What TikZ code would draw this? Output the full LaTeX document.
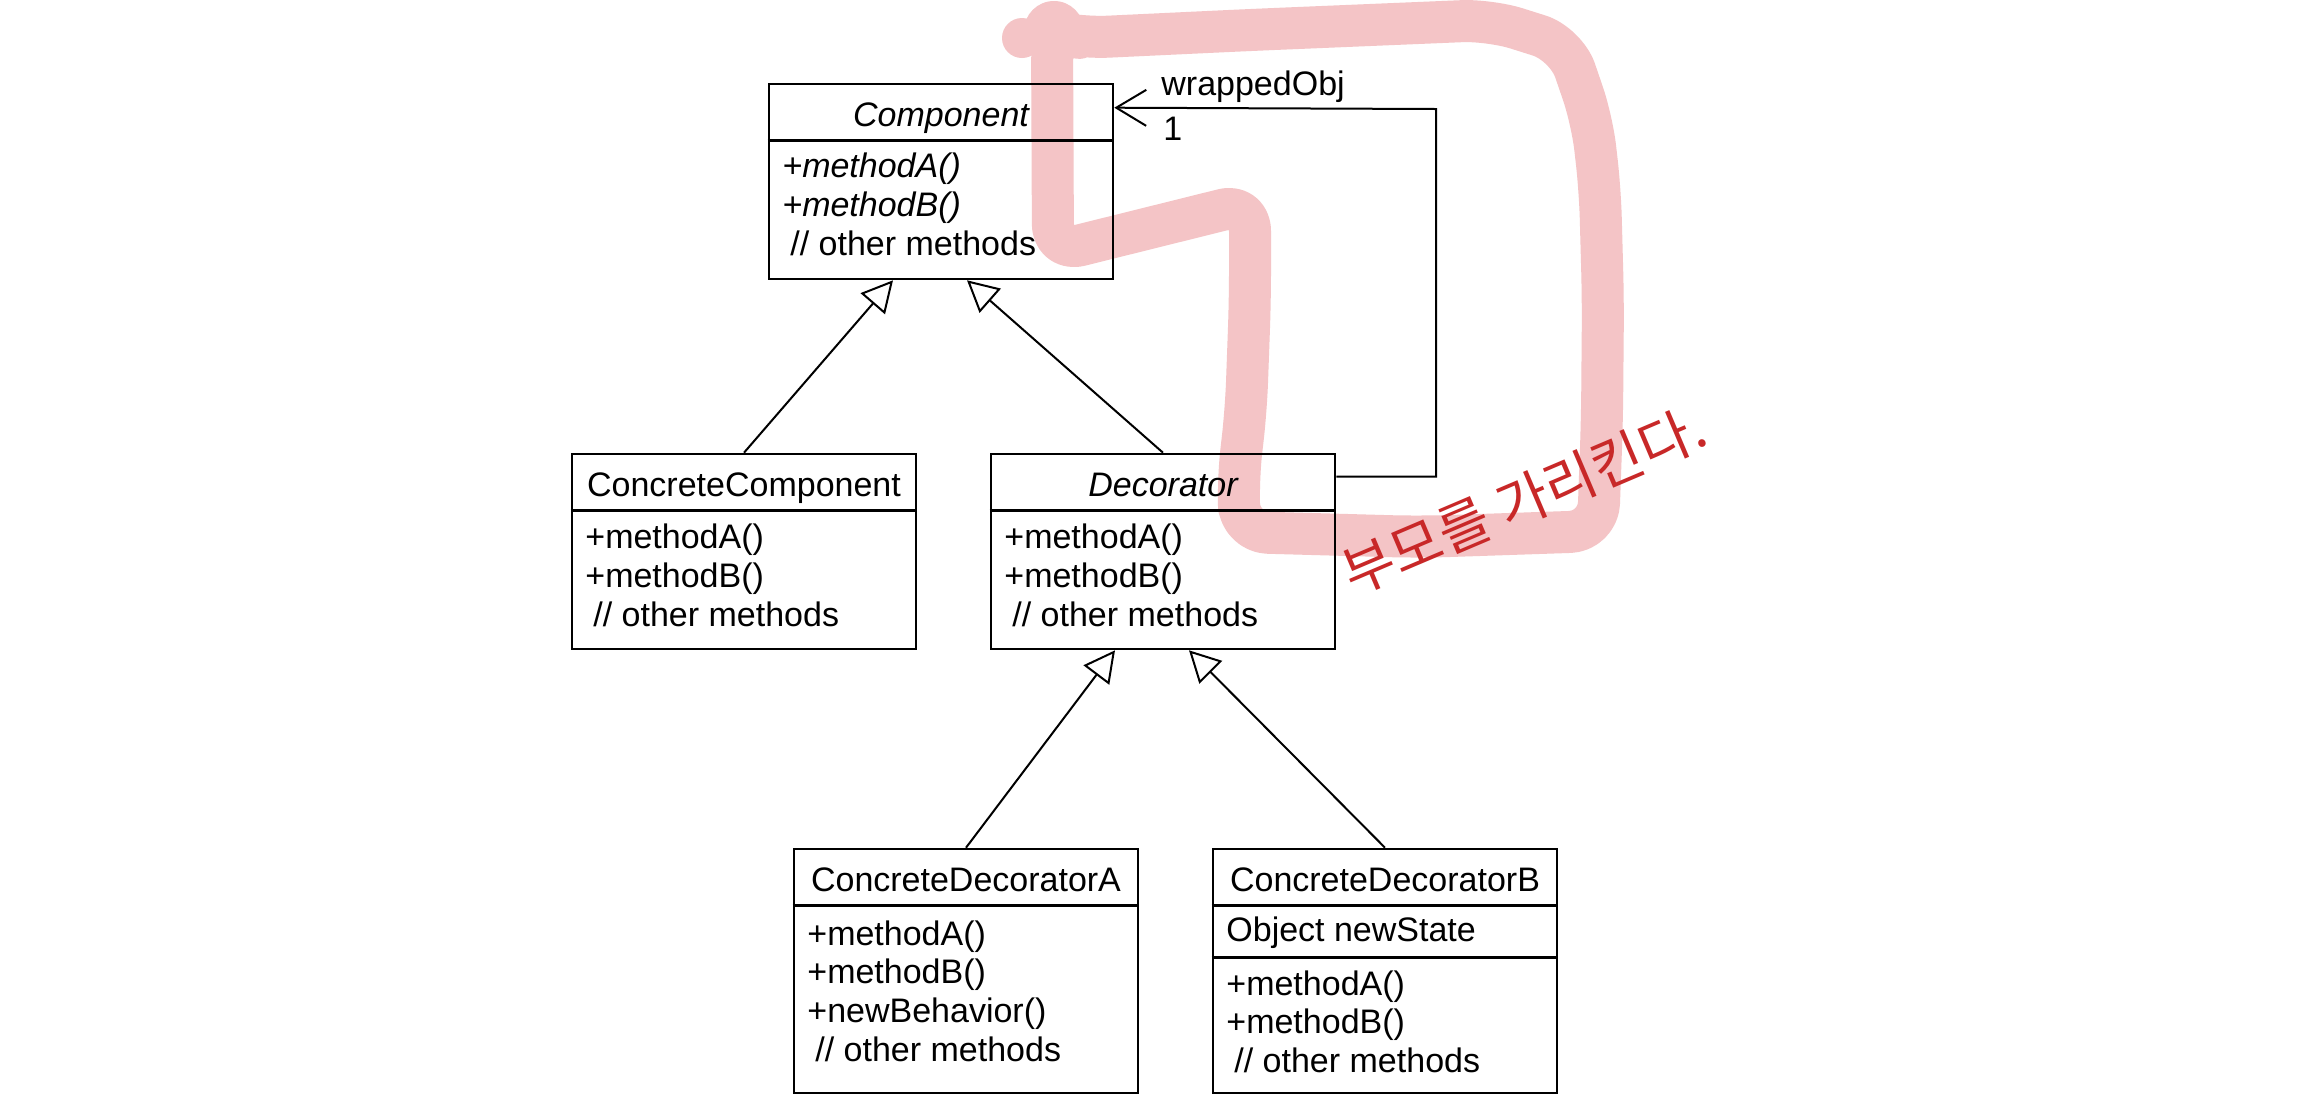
\documentclass[tikz,border=0pt]{standalone}
\usepackage{fontspec}
\setmainfont{Liberation Sans}
\newfontfamily\krfont{Noto Sans CJK KR}
\usetikzlibrary{arrows.meta,calc}
\definecolor{hilite}{RGB}{244,196,198}
\definecolor{penred}{RGB}{200,40,40}
\begin{document}
\begin{tikzpicture}[x=0.5pt,y=-0.5pt,
  classbox/.style={draw, line width=1.3pt, rectangle, inner sep=0pt, minimum width=172pt},
  divider/.style={line width=1.3pt},
  ttl/.style={inner sep=0pt, anchor=base, font=\fontsize{17pt}{20pt}\selectfont},
  mtxt/.style={inner sep=0pt, anchor=base west, font=\fontsize{17pt}{20pt}\selectfont},
  gen/.style={draw, line width=1pt, -{Triangle[length=15.5pt, width=16pt, fill=white, line width=1pt]}},
  agg/.style={draw, line width=1pt, -{Straight Barb[length=15pt, width=18pt, line width=1pt]}},
  hl/.style={draw=hilite, line width=21pt, line cap=round, line join=round},
  kr/.style={inner sep=0pt, text=penred, font=\krfont\fontsize{28pt}{32pt}\selectfont}
]
\fill[white] (0,0) rectangle (2304,1110);
\useasboundingbox (0,0) rectangle (2304,1110);

% pink highlight (drawn first, beneath everything)
\draw[hl, rounded corners=14pt] (1052,32) -- (1053,252) -- (1250,203) -- (1250,300) -- (1246,410)
  -- (1238,480) -- (1240,532) -- (1420,537) -- (1598,531) -- (1602,420) -- (1603,300)
  -- (1600,190) -- (1592,120) -- (1566,44) -- (1490,20) -- (1250,30) -- (1080,38) -- cycle;
\fill[hilite] (1022,38) circle (10pt);
\fill[hilite] (1054,31) circle (15pt);

% classes
\node[classbox, minimum height=97.5pt] (comp) at (941,181.5) {};
\draw[divider] (comp.west |- 0,140.7) -- (comp.east |- 0,140.7);
\node[ttl] (compT) at (941,126.7) {\itshape Component};
\node[mtxt] (compA) at (782,177) {\itshape +methodA()};
\node[mtxt] (compB) at (782,216) {\itshape +methodB()};
\node[mtxt] (compO) at (790,255.5) {// other methods};

\node[classbox, minimum height=97.5pt] (cc) at (744,551.5) {};
\draw[divider] (cc.west |- 0,510.7) -- (cc.east |- 0,510.7);
\node[ttl] (ccT) at (744,496.7) {ConcreteComponent};
\node[mtxt] (ccA) at (585,548.3) {+methodA()};
\node[mtxt] (ccB) at (585,587) {+methodB()};
\node[mtxt] (ccO) at (593,626.5) {// other methods};

\node[classbox, minimum height=97.5pt] (dec) at (1163,551.5) {};
\draw[divider] (dec.west |- 0,510.7) -- (dec.east |- 0,510.7);
\node[ttl] (decT) at (1163,496.7) {\itshape Decorator};
\node[mtxt] (decA) at (1004,548.3) {+methodA()};
\node[mtxt] (decB) at (1004,587) {+methodB()};
\node[mtxt] (decO) at (1012,626.5) {// other methods};

\node[classbox, minimum height=122pt] (cda) at (966,971) {};
\draw[divider] (cda.west |- 0,905.7) -- (cda.east |- 0,905.7);
\node[ttl] (cdaT) at (966,891.7) {ConcreteDecoratorA};
\node[mtxt] (cdaA) at (807,945) {+methodA()};
\node[mtxt] (cdaB) at (807,983.5) {+methodB()};
\node[mtxt] (cdaN) at (807,1022) {+newBehavior()};
\node[mtxt] (cdaO) at (815,1061) {// other methods};

\node[classbox, minimum height=122pt] (cdb) at (1385,971) {};
\draw[divider] (cdb.west |- 0,905.7) -- (cdb.east |- 0,905.7);
\draw[divider] (cdb.west |- 0,957.3) -- (cdb.east |- 0,957.3);
\node[ttl] (cdbT) at (1385,891.7) {ConcreteDecoratorB};
\node[mtxt] (cdbS) at (1226,941.7) {Object newState};
\node[mtxt] (cdbA) at (1226,995) {+methodA()};
\node[mtxt] (cdbB) at (1226,1033.5) {+methodB()};
\node[mtxt] (cdbO) at (1234,1072) {// other methods};

% generalizations
\draw[gen] (cc.north) -- ($(comp.south)+(-48,0)$);
\draw[gen] (dec.north) -- ($(comp.south)+(26,0)$);
\draw[gen] (cda.north) -- ($(dec.south)+(-48,0)$);
\draw[gen] (cdb.north) -- ($(dec.south)+(26,0)$);

% aggregation
\coordinate (aggc) at (1436,109);
\draw[agg] ([yshift=-12pt]dec.north east) -| (aggc) -- ([yshift=-12.5pt]comp.north east);
\node[mtxt] (wrap) at (1161,95) {wrappedObj};
\node[mtxt] (mult) at (1163,140) {1};

% handwritten note
\node[kr, rotate=23] (note) at (1524,500) {부모를 가리킨다.};
\end{tikzpicture}
\end{document}
